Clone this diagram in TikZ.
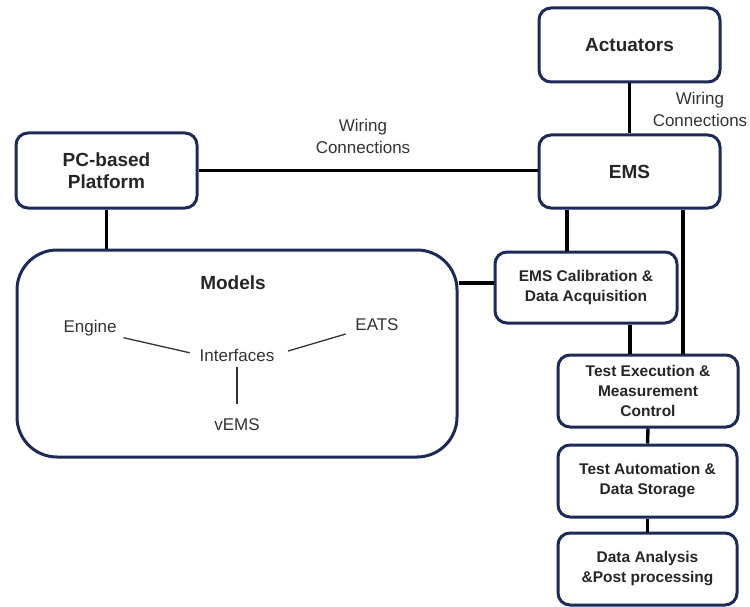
\documentclass[tikz,border=0pt]{standalone}
\usepackage{fontspec}
\setmainfont{Liberation Sans}
\definecolor{navy}{HTML}{1B2A57}
\definecolor{txt}{HTML}{262626}
\definecolor{lbl}{HTML}{333333}
\begin{document}
\begin{tikzpicture}[x=1pt,y=-1pt,
  bigbox/.style={draw=navy, line width=3pt, rounded corners=12pt, fill=white, align=center,
    text=txt, font=\fontsize{19}{21.5}\selectfont\bfseries, inner sep=0pt},
  smallbox/.style={draw=navy, line width=3pt, rounded corners=12pt, fill=white, align=center,
    text=txt, font=\fontsize{15.5}{20}\selectfont\bfseries, inner sep=0pt,
    minimum width=180pt, minimum height=72pt},
  conn/.style={line width=3.4pt, black},
  lab/.style={text=lbl, font=\fontsize{17}{22}\selectfont, align=center, inner sep=0pt},
  thin/.style={line width=1.3pt, black!80}]
\useasboundingbox (0,0) rectangle (750,607);
\fill[white] (0,0) rectangle (750,607);

\node[bigbox, minimum width=181pt, minimum height=74pt] (Act) at (629.5,45) {Actuators};
\node[bigbox, minimum width=181pt, minimum height=73pt] (EMS) at (629.5,171.5) {EMS};
\node[bigbox, minimum width=181pt, minimum height=75pt] (PC) at (106.5,170.5) {PC-based\\Platform};
\node[bigbox, minimum width=440pt, minimum height=207pt, rounded corners=40pt] (Models) at (237,353.5) {};
\node[smallbox, minimum width=182pt, minimum height=71pt] (Cal) at (586,287.5) {EMS Calibration \&\\Data Acquisition};
\node[smallbox] (Exec) at (648,391) {Test Execution \&\\Measurement\\Control};
\node[smallbox, minimum width=179pt] (Auto) at (647.5,481) {Test Automation \&\\Data Storage};
\node[smallbox, minimum width=179pt] (Ana) at (647.5,569) {Data Analysis\\\&Post processing};

% labels
\node[lab] (W1) at (363,136) {Wiring\\Connections};
\node[lab] (W2) at (700,109) {Wiring\\Connections};

% models content
\node[text=txt, font=\fontsize{19}{21.5}\selectfont\bfseries, inner sep=0pt] (MT) at (233,283) {Models};
\node[lab] (Eng) at (90,328) {Engine};
\node[lab] (EATS) at (377,325) {EATS};
\node[lab] (Int) at (237,355) {Interfaces};
\node[lab] (vEMS) at (237,425) {vEMS};
\draw[thin, shorten <=7pt, shorten >=10pt] (Eng.south east) -- (Int.west);
\draw[thin, shorten <=14pt, shorten >=10pt] (Int.east) -- (EATS.south west);
\draw[thin, shorten <=6pt, shorten >=15pt] (Int.south) -- (vEMS.north);

% connectors
\draw[conn] (Act.south) -- (EMS.north);
\draw[conn] (PC.east) -- (PC.east -| EMS.west);
\draw[conn] (PC.south) -- (PC.south |- Models.north);
\draw[conn] ([yshift=4.5pt]Cal.west) -- ([yshift=4.5pt]Cal.west -| Models.east);
\draw[conn] ([xshift=-19pt]Cal.north) -- ([xshift=-19pt]Cal.north |- EMS.south);
\draw[conn] ([xshift=53.5pt]EMS.south) -- ([xshift=53.5pt]EMS.south |- Exec.north);
\draw[conn] ([xshift=44pt]Cal.south) -- ([xshift=44pt]Cal.south |- Exec.north);
\draw[conn] (Exec.south) -- (Auto.north);
\draw[conn] (Auto.south) -- (Ana.north);
\end{tikzpicture}
\end{document}
